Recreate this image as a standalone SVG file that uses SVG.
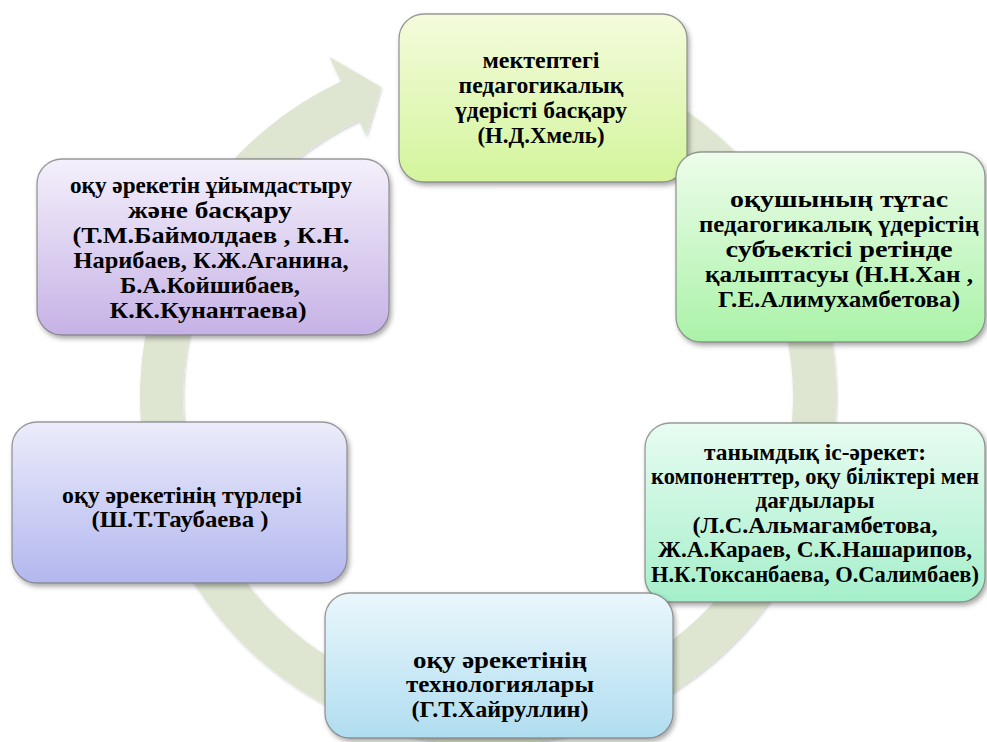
<svg xmlns="http://www.w3.org/2000/svg" width="987" height="742" viewBox="0 0 987 742">
<defs>
<style>
.box{stroke:#7a7a7a;stroke-width:1.3;stroke-opacity:0.75;filter:url(#sh)}
.t{font-family:'Liberation Serif','DejaVu Serif',serif;font-weight:bold;font-size:24px;fill:#000;text-anchor:middle}
.s{font-size:23px}
.ring{fill:#dee6d1;filter:url(#rs)}
</style>
<filter id="sh" x="-10%" y="-10%" width="120%" height="130%">
<feDropShadow dx="2" dy="3" stdDeviation="2.5" flood-color="#000" flood-opacity="0.35"/>
</filter>
<filter id="rs" x="-5%" y="-5%" width="110%" height="110%">
<feDropShadow dx="1" dy="1.5" stdDeviation="1.5" flood-color="#000" flood-opacity="0.2"/>
</filter>
<linearGradient id="g1" x1="0" y1="0" x2="0" y2="1"><stop offset="0" stop-color="#f4fbdc"/><stop offset="1" stop-color="#d3f59c"/></linearGradient>
<linearGradient id="g2" x1="0" y1="0" x2="0" y2="1"><stop offset="0" stop-color="#edfdea"/><stop offset="1" stop-color="#aaf2a8"/></linearGradient>
<linearGradient id="g3" x1="0" y1="0" x2="0" y2="1"><stop offset="0" stop-color="#e8fcf2"/><stop offset="1" stop-color="#a5efca"/></linearGradient>
<linearGradient id="g4" x1="0" y1="0" x2="0" y2="1"><stop offset="0" stop-color="#eaf7fc"/><stop offset="1" stop-color="#b0ddf0"/></linearGradient>
<linearGradient id="g5" x1="0" y1="0" x2="0" y2="1"><stop offset="0" stop-color="#ececfb"/><stop offset="1" stop-color="#b2b7ee"/></linearGradient>
<linearGradient id="g6" x1="0" y1="0" x2="0" y2="1"><stop offset="0" stop-color="#f4f0fb"/><stop offset="1" stop-color="#c6b2e6"/></linearGradient>
</defs>
<rect width="987" height="742" fill="#fff"/>
<g id="connectors">
<path class="ring" d="M488,49 A348,348 0 1 1 340.93,81.61 L329.5,57.1 L381,87 L366.3,136 L359.1,120.58 A305,305 0 1 0 488,92 Z"/>
</g>
<g id="node1">
<rect class="box" x="399" y="14" width="288" height="168" rx="25" fill="url(#g1)"/>
<text class="t" x="541" y="68" textLength="117" lengthAdjust="spacingAndGlyphs">мектептегі</text>
<text class="t" x="541" y="93" textLength="165" lengthAdjust="spacingAndGlyphs">педагогикалық</text>
<text class="t" x="541" y="118" textLength="172" lengthAdjust="spacingAndGlyphs">үдерісті басқару</text>
<text class="t" x="541" y="143" textLength="127" lengthAdjust="spacingAndGlyphs">(Н.Д.Хмель)</text>
</g>
<g id="node2">
<rect class="box" x="676" y="152" width="309" height="190" rx="25" fill="url(#g2)"/>
<text class="t" x="839" y="207" textLength="218" lengthAdjust="spacingAndGlyphs">оқушының тұтас</text>
<text class="t" x="839" y="232" textLength="280" lengthAdjust="spacingAndGlyphs">педагогикалық үдерістің</text>
<text class="t" x="839" y="257" textLength="227" lengthAdjust="spacingAndGlyphs">субъектісі ретінде</text>
<text class="t" x="839" y="282" textLength="268" lengthAdjust="spacingAndGlyphs">қалыптасуы (Н.Н.Хан ,</text>
<text class="t" x="839" y="307" textLength="242" lengthAdjust="spacingAndGlyphs">Г.Е.Алимухамбетова)</text>
</g>
<g id="node3">
<rect class="box" x="645" y="423" width="340" height="179" rx="25" fill="url(#g3)"/>
<text class="t s" x="815" y="460" textLength="222" lengthAdjust="spacingAndGlyphs">танымдық іс-әрекет:</text>
<text class="t s" x="815" y="484" textLength="328" lengthAdjust="spacingAndGlyphs">компоненттер, оқу біліктері мен</text>
<text class="t s" x="815" y="508" textLength="119" lengthAdjust="spacingAndGlyphs">дағдылары</text>
<text class="t s" x="815" y="533" textLength="245" lengthAdjust="spacingAndGlyphs">(Л.С.Альмагамбетова,</text>
<text class="t s" x="815" y="557" textLength="314" lengthAdjust="spacingAndGlyphs">Ж.А.Караев, С.К.Нашарипов,</text>
<text class="t s" x="815" y="582" textLength="328" lengthAdjust="spacingAndGlyphs">Н.К.Токсанбаева, О.Салимбаев)</text>
</g>
<g id="node4">
<rect class="box" x="325" y="593" width="348" height="145" rx="25" fill="url(#g4)"/>
<text class="t" x="500" y="668" textLength="174" lengthAdjust="spacingAndGlyphs">оқу әрекетінің</text>
<text class="t" x="500" y="692" textLength="188" lengthAdjust="spacingAndGlyphs">технологиялары</text>
<text class="t" x="500" y="717" textLength="177" lengthAdjust="spacingAndGlyphs">(Г.Т.Хайруллин)</text>
</g>
<g id="node5">
<rect class="box" x="12" y="422" width="335" height="161" rx="25" fill="url(#g5)"/>
<text class="t" x="182" y="503" textLength="240" lengthAdjust="spacingAndGlyphs">оқу әрекетінің түрлері</text>
<text class="t" x="180" y="527" textLength="177" lengthAdjust="spacingAndGlyphs">(Ш.Т.Таубаева )</text>
</g>
<g id="node6">
<rect class="box" x="37" y="159" width="352" height="176" rx="25" fill="url(#g6)"/>
<text class="t" x="211" y="193" textLength="282" lengthAdjust="spacingAndGlyphs">оқу әрекетін ұйымдастыру</text>
<text class="t" x="210" y="218" textLength="164" lengthAdjust="spacingAndGlyphs">және басқару</text>
<text class="t" x="211" y="243" textLength="277" lengthAdjust="spacingAndGlyphs">(Т.М.Баймолдаев , К.Н.</text>
<text class="t" x="211" y="268" textLength="275" lengthAdjust="spacingAndGlyphs">Нарибаев, К.Ж.Аганина,</text>
<text class="t" x="210" y="293" textLength="180" lengthAdjust="spacingAndGlyphs">Б.А.Койшибаев,</text>
<text class="t" x="208" y="318" textLength="197" lengthAdjust="spacingAndGlyphs">К.К.Кунантаева)</text>
</g>
</svg>
